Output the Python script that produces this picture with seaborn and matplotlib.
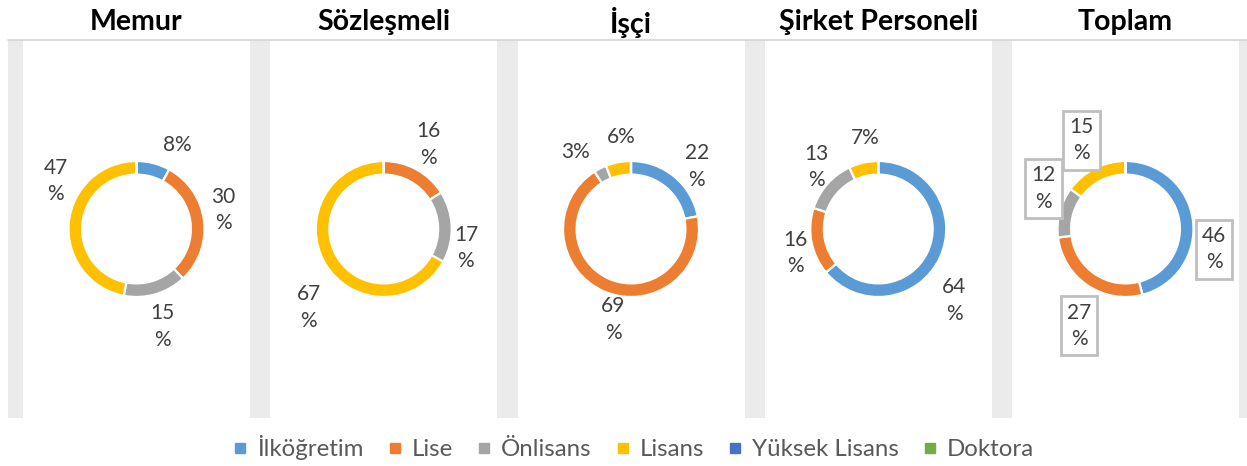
import numpy as np
import matplotlib
matplotlib.use("Agg")
import matplotlib.pyplot as plt
from matplotlib.patches import Rectangle
from matplotlib.lines import Line2D
import seaborn as sns

# ---- data ----
groups = ["Memur", "Sözleşmeli", "İşçi", "Şirket Personeli", "Toplam"]
categories = ["İlköğretim", "Lise", "Önlisans", "Lisans", "Yüksek Lisans", "Doktora"]
memur = [8, 30, 15, 47, 0, 0]
sozlesmeli = [0, 16, 17, 67, 0, 0]
isci = [22, 69, 3, 6, 0, 0]
sirket = [64, 16, 13, 7, 0, 0]
toplam = [46, 27, 12, 15, 0, 0]
series = [memur, sozlesmeli, isci, sirket, toplam]

colors = sns.color_palette(["#5B9BD5", "#ED7D31", "#A5A5A5", "#FFC000", "#4472C4", "#70AD47"])

# label nudges (pixels, x right / y down) relative to angle-based placement
nudges = {
    (0, 0): (17, 8), (0, 1): (-8, -7), (0, 2): (-1, 6), (0, 3): (14, -39),
    (1, 1): (-1, -1), (1, 2): (-13, 22), (1, 3): (7, 30),
    (2, 0): (5, 11), (2, 1): (20, 3), (2, 2): (-12, 8), (2, 3): (8, 2),
    (3, 0): (-10, 31), (3, 1): (11, 6), (3, 2): (10, 1), (3, 3): (8, 2),
    (4, 0): (-6, 32), (4, 1): (7, 18), (4, 2): (10, -17), (4, 3): (-1, -4),
}

sns.set_theme(style="white")
plt.rcParams["font.family"] = ["Lato", "DejaVu Sans"]

W, H = 1247, 466
fig = plt.figure(figsize=(W / 100, H / 100), dpi=100)
fig.patch.set_facecolor("white")

# gray band
top_px, bot_px = 40, 418
fig.patches.append(Rectangle((8 / W, 1 - bot_px / H), (W - 8) / W, (bot_px - top_px) / H,
                             transform=fig.transFigure, facecolor="#EBEBEB", edgecolor="none", zorder=-5))
fig.lines.append(Line2D([8 / W, 1], [1 - top_px / H] * 2, transform=fig.transFigure,
                        color="#D4D4D4", lw=1.2, zorder=5))

R_px = 68
panel_w = 227
panel_left0 = 23
panel_step = 247.25
label_r = 1.4

for i, (g, vals) in enumerate(zip(groups, series)):
    left = panel_left0 + i * panel_step
    ax = fig.add_axes([left / W, 1 - bot_px / H, panel_w / W, (bot_px - top_px) / H])
    ax.set_zorder(1)
    ax.pie(vals, colors=colors, startangle=90, counterclock=False, radius=1,
           wedgeprops=dict(width=0.2, edgecolor="white", linewidth=1.6))
    ax.set_frame_on(True)
    ax.set_facecolor("white")
    hx = panel_w / 2 / R_px
    hy = (bot_px - top_px) / 2 / R_px
    ax.set_xlim(-hx, hx)
    ax.set_ylim(-hy, hy)
    ax.set_aspect("equal", adjustable="datalim")
    ax.set_xticks([])
    ax.set_yticks([])
    for s in ax.spines.values():
        s.set_visible(False)

    total = sum(vals)
    cum = 0
    for j, v in enumerate(vals):
        if v == 0:
            continue
        mid = (cum + v / 2) / total
        cum += v
        theta = 2 * np.pi * mid
        x = label_r * np.sin(theta)
        y = label_r * np.cos(theta)
        dx, dy = nudges.get((i, j), (0, 0))
        x += dx / R_px
        y -= dy / R_px
        txt = f"{v}%" if v < 10 else f"{v}\n%"
        kw = {}
        if g == "Toplam":
            kw["bbox"] = dict(boxstyle="square,pad=0.3", facecolor="white",
                              edgecolor="#BFBFBF", linewidth=2)
        ax.text(x, y, txt, ha="center", va="center", fontsize=15, color="#404040",
                linespacing=1.4, **kw)

    fig.text((left + panel_w / 2) / W, 1 - 22 / H, g, ha="center", va="center",
             fontsize=20.5, fontweight="bold", color="black")

handles = [Line2D([], [], marker="s", linestyle="none", markersize=7,
                  markerfacecolor=c, markeredgecolor=c) for c in colors]
fig.legend(handles, categories, loc="center", bbox_to_anchor=(0.508, 1 - 448 / H), ncol=6,
           frameon=False, fontsize=17.3, labelcolor="#595959", handlelength=0.6,
           handletextpad=0.4, columnspacing=1.0)

fig.savefig("out.png", dpi=100, facecolor="white")
